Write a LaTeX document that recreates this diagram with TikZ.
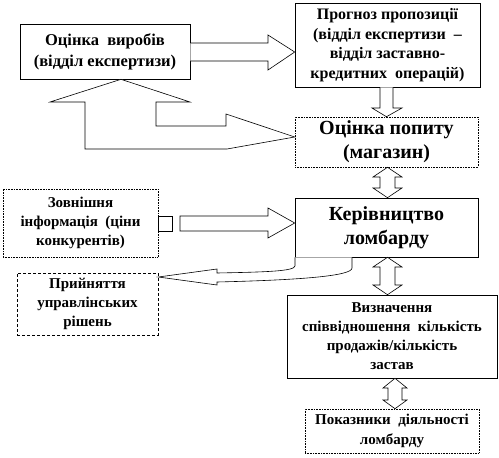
\documentclass[tikz,border=0pt]{standalone}
\usepackage{fontspec}
\setmainfont{Liberation Serif}
\usetikzlibrary{calc}
\tikzset{
  box/.style={draw=black, line width=0.6pt, fill=white, rectangle, align=center, inner sep=2pt, font=\bfseries\fontsize{15}{19}\selectfont},
  bigbox/.style={box, font=\bfseries\fontsize{20}{24}\selectfont},
  blockarrow/.style={draw=black, line width=0.6pt, fill=white, line join=miter},
}
\begin{document}
\begin{tikzpicture}[x=1pt, y=-1pt]
\useasboundingbox (0,0) rectangle (499,458);
% nodes
\node[box, minimum width=170pt, minimum height=55pt, font=\bfseries\fontsize{16.5}{21}\selectfont] (b1) at (105,51.5) {Оцінка\ \ виробів\\(відділ експертизи)};
\node[box, minimum width=185pt, minimum height=84pt, font=\bfseries\fontsize{16}{19.5}\selectfont] (b2) at (387.5,45) {Прогноз пропозиції\\(відділ експертизи\ \ –\\відділ заставно-\\кредитних\ \ операцій)};
\node[bigbox, densely dotted, minimum width=183pt, minimum height=50pt] (b3) at (386.5,142) {Оцінка попиту\\(магазин)};
\node[bigbox, minimum width=183pt, minimum height=59pt] (b4) at (386.5,227.5) {Керівництво\\ломбарду};
\node[box, minimum width=210pt, minimum height=83pt] (b5) at (392,336.5) {Визначення\\співвідношення\ \ кількість\\продажів/кількість\\застав};
\node[box, densely dotted, minimum width=174pt, minimum height=44pt, font=\bfseries\fontsize{15}{20}\selectfont] (b6) at (392,431) {Показники\ \ діяльності\\ломбарду};
\node[box, densely dotted, minimum width=155pt, minimum height=68pt] (b7) at (80.5,223) {Зовнішня\\інформація\ \ (ціни\\конкурентів)};
\node[box, densely dashed, minimum width=141pt, minimum height=62pt] (b8) at (87.5,304) {Прийняття\\управлінських\\рішень};

% b1 -> b2 block arrow
\draw[blockarrow] (b1.east |- 0,43) -- (268,43) -- (268,35) -- (b2.west |- 0,52) -- (268,70) -- (268,61) -- (b1.east |- 0,61);
% b2 -> b3 down arrow
\draw[blockarrow] (380,0 |- b2.south) -- (380,108) -- (372,108) -- (386.5,0 |- b3.north) -- (402,108) -- (393,108) -- (393,0 |- b2.south);
% U-turn arrow b1 -> b3
\draw[blockarrow] (85,149) -- (85,102) -- (50,102) -- (121,0 |- b1.south) -- (190,102) -- (156,102) -- (156,126) -- (226,126) -- (226,114) -- (b3.west |- 0,137) -- (227,149) -- cycle;
% double arrows
\draw[blockarrow] (387.5,0 |- b3.south) -- (402,177) -- (395,177) -- (395,188) -- (402,188) -- (387.5,0 |- b4.north) -- (373,188) -- (380,188) -- (380,177) -- (373,177) -- cycle;
\draw[blockarrow] (387.5,0 |- b4.south) -- (402,267) -- (395,267) -- (395,285) -- (402,285) -- (387.5,0 |- b5.north) -- (373,285) -- (380,285) -- (380,267) -- (373,267) -- cycle;
\draw[blockarrow] (395,0 |- b5.south) -- (407,388) -- (402,388) -- (402,400) -- (407,400) -- (395,0 |- b6.north) -- (383,400) -- (388,400) -- (388,388) -- (383,388) -- cycle;
% striped arrow b7 -> b4
\draw[blockarrow] (b7.east |- 0,216) rectangle (172,231);
\draw[blockarrow] (180,216) -- (268,216) -- (268,208) -- (b4.west |- 0,223) -- (268,238) -- (268,231) -- (180,231) -- cycle;
% curved arrow b4 -> b8
\draw[blockarrow] (295,0 |- b4.south) -- (295,266) .. controls (294,271) and (270,272) .. (217,273) -- (217,269) -- (b8.east |- 0,277) -- (217,285) -- (217,282) .. controls (300,280) and (352,276) .. (352,268) -- (352,0 |- b4.south);
\end{tikzpicture}
\end{document}
